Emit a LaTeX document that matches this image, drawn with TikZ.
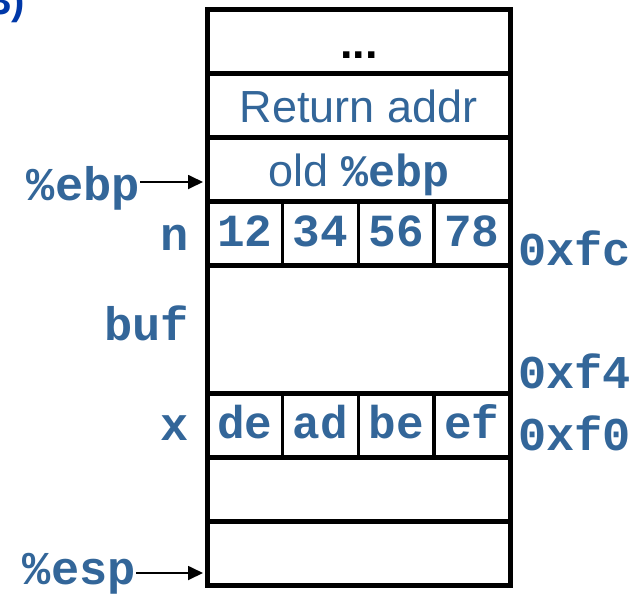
\documentclass[tikz,border=0pt]{standalone}
\usepackage{fontspec}
\setmainfont{Liberation Sans}
\setmonofont{Liberation Mono}
\usetikzlibrary{arrows.meta}
\definecolor{stackblue}{RGB}{51,102,153}
\definecolor{titleblue}{RGB}{0,56,168}
\begin{document}
\begin{tikzpicture}[x=1pt,y=-1pt,
    slot/.style={draw,line width=4.5pt,minimum width=303pt,minimum height=64pt,
      inner sep=0pt,anchor=north west,text=stackblue,text height=34pt,text depth=0pt,
      font=\fontsize{45}{54}\selectfont},
    byte/.style={draw,line width=3.5pt,minimum width=75.75pt,minimum height=64pt,
      inner sep=0pt,anchor=north west,text=stackblue,text height=28pt,text depth=0pt,
      font=\fontsize{46}{54}\selectfont\ttfamily\bfseries},
    val/.style={text=stackblue,font=\fontsize{47}{56}\selectfont\ttfamily\bfseries,inner sep=0pt},
    lbl/.style={val,anchor=base east},
    addr/.style={val,anchor=base west},
    ptr/.style={-{Triangle[length=15pt,width=14pt]},line width=1.8pt}]
  \useasboundingbox (0,0) rectangle (642,595);
  \node[anchor=base east,inner sep=0pt,text=titleblue,font=\fontsize{40}{48}\selectfont\bfseries]
    (part) at (25,14) {3)};
  % byte cells
  \foreach \v [count=\i from 0] in {12,34,56,78}
    \node[byte] (n\i) at (205+75.75*\i,199) {\v};
  \foreach \v [count=\i from 0] in {de,ad,be,ef}
    \node[byte] (x\i) at (205+75.75*\i,391) {\v};
  % stack slots
  \node[slot,text=black] (dots) at (205,7) {\textbf{...}};
  \node[slot] (ret) at (205,71) {Return addr};
  \node[slot] (old) at (205,135) {old {\ttfamily\bfseries\%ebp}};
  \node[slot] (nrow) at (205,199) {};
  \node[slot,minimum height=128pt] (buf) at (205,263) {};
  \node[slot] (xrow) at (205,391) {};
  \node[slot] (free1) at (205,455) {};
  \node[slot] (free2) at (205,519) {};
  % names
  \node[lbl] (ebp) at (140,200) {\%ebp};
  \node[lbl] (nname) at (189,250) {n};
  \node[lbl] (bufname) at (189,340) {buf};
  \node[lbl] (xname) at (189,440) {x};
  \node[lbl] (esp) at (136,584) {\%esp};
  % addresses
  \node[addr] (afc) at (518,265) {0xfc};
  \node[addr] (af4) at (518,388) {0xf4};
  \node[addr] (af0) at (518,450) {0xf0};
  % pointers
  \coordinate (ebpin) at (203,182);
  \coordinate (espin) at (203,573);
  \begin{scope}[ptr]
    \draw (ebp.east |- ebpin) -- (ebpin);
    \draw (esp.east |- espin) -- (espin);
  \end{scope}
\end{tikzpicture}
\end{document}
